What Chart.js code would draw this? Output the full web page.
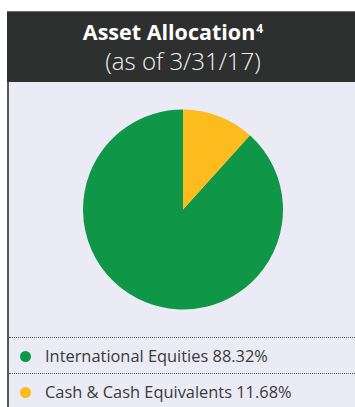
<!DOCTYPE html>
<html>
<head>
<meta charset="utf-8">
<script src="https://cdn.jsdelivr.net/npm/chart.js@4"></script>
<style>
  html, body { margin: 0; padding: 0; background: #ffffff; }
  body { width: 355px; height: 407px; position: relative; overflow: hidden; font-family: "Open Sans", sans-serif; }
  #panel { position: absolute; left: 7px; top: 11px; right: 0; bottom: 0; background: #eaebf4; border-left: 2px solid #555657; }
  #header { position: absolute; left: 7px; top: 11px; right: 0; height: 71px; background: #2e2f2f; border-top: 1px solid #6b6c6c; box-sizing: border-box; color: #ffffff; text-align: center; }
  #title { position: absolute; left: 0; right: 0; top: 7px; font-size: 21.5px; font-weight: 700; line-height: 26px; padding-right: 16px; }
  #title sup { font-size: 12px; vertical-align: 0; position: relative; top: -7px; margin-left: 1px; }
  #subtitle { position: absolute; left: 0; right: 0; top: 35px; font-size: 24px; font-weight: 300; line-height: 28px; color: #f2f2f2; padding-left: 4px; }
  #chartBox { position: absolute; left: 73px; top: 99px; width: 220px; height: 221px; }
  .row { position: absolute; left: 9px; right: 0; height: 36px; border-top: 1px dotted #555; }
  .row .dot { position: absolute; left: 11px; width: 11px; height: 11px; border-radius: 50%; top: 13px; }
  .row .txt { position: absolute; left: 36px; top: 7px; font-size: 16.4px; line-height: 22px; color: #3a3a3a; white-space: nowrap; }
</style>
</head>
<body>
<div id="panel"></div>
<div id="header">
  <div id="title">Asset Allocation<sup>4</sup></div>
  <div id="subtitle">(as of 3/31/17)</div>
</div>
<div id="chartBox"><canvas id="pie"></canvas></div>
<div id="legend"></div>
<script>
// Portfolio allocation by asset class
const categories = ["International Equities", "Cash & Cash Equivalents"];
const weights = [88.32, 11.68];
const sliceColors = ["#0f9747", "#fdbc1e"];

// Start the first slice so that the last one sits at 12 o'clock
const total = weights.reduce((a, b) => a + b, 0);
const startAngle = 360 * weights[weights.length - 1] / total;

new Chart(document.getElementById("pie"), {
  type: "pie",
  data: {
    labels: categories,
    datasets: [{
      data: weights,
      backgroundColor: sliceColors,
      borderWidth: 0
    }]
  },
  options: {
    responsive: true,
    maintainAspectRatio: false,
    animation: false,
    rotation: startAngle,
    layout: { padding: 10 },
    plugins: { legend: { display: false }, tooltip: { enabled: false } }
  }
});

// Legend rows with dotted separators
const legend = document.getElementById("legend");
const rowTops = [337, 373];
categories.forEach((name, i) => {
  const row = document.createElement("div");
  row.className = "row";
  row.style.top = rowTops[i] + "px";
  const dot = document.createElement("div");
  dot.className = "dot";
  dot.style.background = sliceColors[i];
  const txt = document.createElement("div");
  txt.className = "txt";
  txt.textContent = name + " " + weights[i].toFixed(2) + "%";
  row.appendChild(dot);
  row.appendChild(txt);
  legend.appendChild(row);
});
</script>
</body>
</html>
